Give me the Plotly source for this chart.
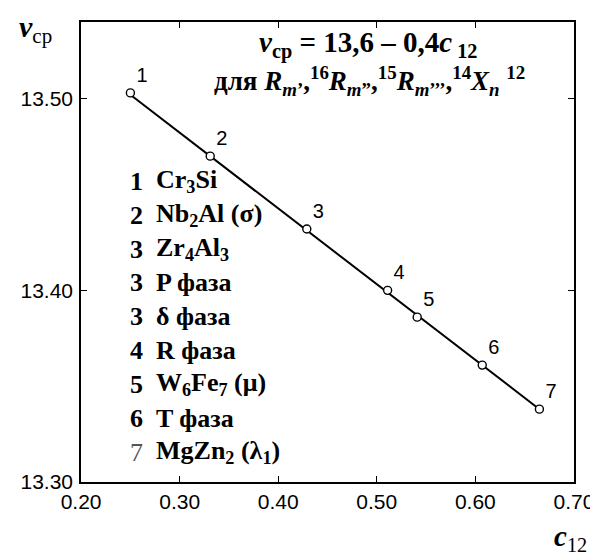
"""Average valence v_cp versus c12 fraction for tetrahedrally close-packed phases."""

import plotly.graph_objects as go

# measured points (numbered as in the phase list)
point_labels = ["1", "2", "3", "4", "5", "6", "7"]
c12_values = [0.250, 0.331, 0.429, 0.511, 0.541, 0.607, 0.665]
v_cp_values = [13.503, 13.470, 13.432, 13.400, 13.386, 13.361, 13.338]

# straight line through the points
fit_c12 = [0.250, 0.665]
fit_v_cp = [13.502, 13.338]

# phase list shown inside the plot
phase_numbers = ["1", "2", "3", "3", "3", "4", "5", "6", "7"]
phase_names = [
    "Cr<sub>3</sub>Si",
    "Nb<sub>2</sub>Al (σ)",
    "Zr<sub>4</sub>Al<sub>3</sub>",
    "P фаза",
    "δ фаза",
    "R фаза",
    "W<sub>6</sub>Fe<sub>7</sub> (μ)",
    "T фаза",
    "MgZn<sub>2</sub> (λ<sub>1</sub>)",
]

x_ticks = [0.2, 0.3, 0.4, 0.5, 0.6, 0.7]
x_tick_text = ["0.20", "0.30", "0.40", "0.50", "0.60", "0.70"]
y_ticks = [13.30, 13.40, 13.50]
y_tick_text = ["13.30", "13.40", "13.50"]

SANS = "Liberation Sans, Arial, sans-serif"
SERIF = "Liberation Serif, Times New Roman, serif"

# plot area in pixels (used to place the text blocks)
LEFT, RIGHT, TOP, BOTTOM = 70, 578, 12, 474


def px_x(x):
    return (x - LEFT) / (RIGHT - LEFT)


def px_y(y):
    return (BOTTOM - y) / (BOTTOM - TOP)


fig = go.Figure()

fig.add_trace(
    go.Scatter(
        x=fit_c12,
        y=fit_v_cp,
        mode="lines",
        line={"color": "black", "width": 2},
        hoverinfo="skip",
        showlegend=False,
    )
)
fig.add_trace(
    go.Scatter(
        x=c12_values,
        y=v_cp_values,
        mode="markers+text",
        marker={
            "symbol": "circle",
            "size": 8,
            "color": "white",
            "line": {"color": "black", "width": 1.4},
        },
        text=point_labels,
        textposition="top right",
        textfont={"family": SANS, "size": 20, "color": "black"},
        showlegend=False,
    )
)

annotations = []

# phase list
row_y = 172
for num, name in zip(phase_numbers, phase_names):
    is_last = num == "7"
    annotations.append(
        dict(
            x=px_x(136), y=px_y(row_y), xref="paper", yref="paper",
            text=num if is_last else f"<b>{num}</b>",
            showarrow=False, xanchor="right", yanchor="middle",
            font={"family": SERIF, "size": 26, "color": "#555555" if is_last else "black"},
        )
    )
    annotations.append(
        dict(
            x=px_x(145), y=px_y(row_y), xref="paper", yref="paper",
            text=f"<b>{name}</b>",
            showarrow=False, xanchor="left", yanchor="middle",
            font={"family": SERIF, "size": 26, "color": "black"},
        )
    )
    row_y += 34

# equation
annotations.append(
    dict(
        x=px_x(366), y=px_y(35), xref="paper", yref="paper",
        text="<b><i>v</i><sub>ср</sub> = 13,6 – 0,4<i>c</i><sub> 12</sub></b>",
        showarrow=False, xanchor="center", yanchor="middle",
        font={"family": SERIF, "size": 29, "color": "black"},
    )
)
annotations.append(
    dict(
        x=px_x(367), y=px_y(71), xref="paper", yref="paper",
        text=(
            "<b>для <i>R</i><sub><i>m</i>’</sub>,<sup>16</sup>"
            "<i>R</i><sub><i>m</i>”</sub>,<sup>15</sup>"
            "<i>R</i><sub><i>m</i>’’’</sub>,<sup>14</sup>"
            "<i>X</i><sub><i>n</i></sub> <sup>12</sup></b>"
        ),
        showarrow=False, xanchor="center", yanchor="middle",
        font={"family": SERIF, "size": 27, "color": "black"},
    )
)

# axis titles
annotations.append(
    dict(
        x=px_x(4), y=px_y(-2), xref="paper", yref="paper",
        text="<b><i>v</i></b><sub>ср</sub>",
        showarrow=False, xanchor="left", yanchor="top",
        font={"family": SERIF, "size": 30, "color": "black"},
    )
)
annotations.append(
    dict(
        x=px_x(555), y=px_y(550), xref="paper", yref="paper",
        text="<b><i>c</i></b><sub>12</sub>",
        showarrow=False, xanchor="left", yanchor="bottom",
        font={"family": SERIF, "size": 29, "color": "black"},
    )
)

fig.update_layout(
    width=598,
    height=555,
    margin={"l": LEFT, "r": 598 - RIGHT, "t": TOP, "b": 555 - BOTTOM},
    paper_bgcolor="white",
    plot_bgcolor="white",
    annotations=annotations,
    showlegend=False,
)
fig.update_xaxes(
    range=[0.1999, 0.7001],
    tickvals=x_ticks,
    ticktext=x_tick_text,
    ticks="inside",
    ticklen=6,
    tickcolor="black",
    showline=True,
    linecolor="black",
    linewidth=1.5,
    mirror="ticks",
    showgrid=False,
    zeroline=False,
    ticklabelstandoff=0,
    ticklabeloverflow="allow",
    tickfont={"family": SANS, "size": 21, "color": "black"},
)
fig.update_yaxes(
    range=[13.30, 13.54],
    tickvals=y_ticks,
    ticktext=y_tick_text,
    ticks="inside",
    ticklen=6,
    tickcolor="black",
    showline=True,
    linecolor="black",
    linewidth=1.5,
    mirror="ticks",
    showgrid=False,
    zeroline=False,
    ticklabelstandoff=2,
    tickfont={"family": SANS, "size": 21, "color": "black"},
)

fig.write_html("out.html")
